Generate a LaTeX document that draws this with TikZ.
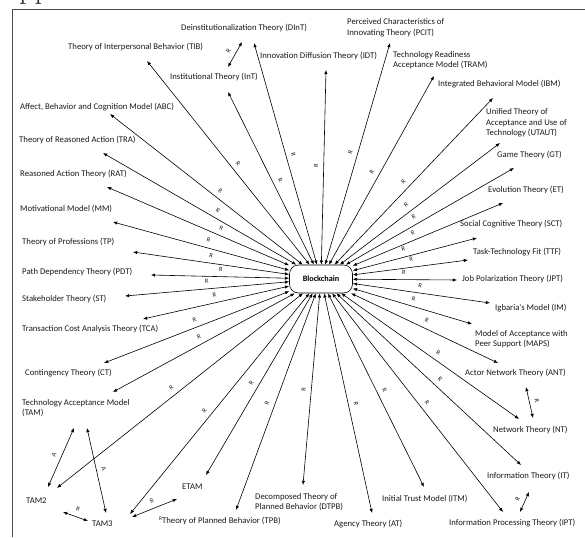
\documentclass[tikz,border=0pt]{standalone}
\usepackage{fontspec}
\newfontfamily\lblfont{Carlito}
\usetikzlibrary{arrows.meta}
\begin{document}
\begin{tikzpicture}[x=1pt,y=-1pt,
  lbl/.style={font=\lblfont\fontsize{8.7}{10.5}\selectfont, inner sep=0pt, anchor=west, align=left, text=black!90},
  rl/.style={font=\lblfont\fontsize{6.5}{7}\selectfont, sloped, above, inner sep=1pt, outer sep=4.5pt, text=black!90},
  con/.style={{Latex[length=4.2pt,width=3.4pt]}-{Latex[length=4.2pt,width=3.4pt]}, line width=0.6pt},
]
\useasboundingbox (0,0) rectangle (585,537);
% page fragment and frame
\node[font=\fontsize{30}{30}\selectfont, anchor=base west, inner sep=0pt, text=black!85] (pp) at (19,-1) {pp};
\draw[gray!60!black, line width=0.9pt] (585,9) -- (12,9) -- (12,537);

% central node
\node[draw, rounded corners=9pt, minimum width=63pt, minimum height=28pt, inner sep=0pt,
      font=\lblfont\bfseries\fontsize{8.2}{9}\selectfont, line width=0.6pt, fill=white] (bc) at (321,279) {Blockchain};

% labels
\node[lbl] (TIB) at (68,47) {Theory of Interpersonal Behavior (TIB)};
\node[lbl] (DInT) at (181,28) {Deinstitutionalization Theory (DInT)};
\node[lbl] (InT) at (170,77) {Institutional Theory (InT)};
\node[lbl] (IDT) at (260,56) {Innovation Diffusion Theory (IDT)};
\node[lbl] (ABC) at (20,107) {Affect, Behavior and Cognition Model (ABC)};
\node[lbl] (TRA) at (19,140) {Theory of Reasoned Action (TRA)};
\node[lbl] (RAT) at (20,174) {Reasoned Action Theory (RAT)};
\node[lbl] (MM) at (20,209) {Motivational Model (MM)};
\node[lbl] (TP) at (22,242) {Theory of Professions (TP)};
\node[lbl] (PDT) at (22,272) {Path Dependency Theory (PDT)};
\node[lbl] (ST) at (22,299) {Stakeholder Theory (ST)};
\node[lbl] (TCA) at (22,329) {Transaction Cost Analysis Theory (TCA)};
\node[lbl] (CT) at (25,373) {Contingency Theory (CT)};
\node[lbl] (TAM) at (22,408) {Technology Acceptance Model\\(TAM)};
\node[lbl] (TAM2) at (26,501) {TAM2};
\node[lbl] (TAM3) at (92,524) {TAM3};
\node[lbl] (ETAM) at (182,487) {ETAM};
\node[lbl] (TPB) at (159,521) {\raisebox{2.5pt}{\fontsize{5.5}{6}\selectfont R}Theory of Planned Behavior (TPB)};
\node[lbl] (DTPB) at (255,502) {Decomposed Theory of\\Planned Behavior (DTPB)};
\node[lbl] (AT) at (334,524) {Agency Theory (AT)};
\node[lbl] (ITM) at (382,499) {Initial Trust Model (ITM)};
\node[lbl] (IPT) at (449,523) {Information Processing Theory (IPT)};
\node[lbl] (IT) at (487,476) {Information Theory (IT)};
\node[lbl] (NT) at (493,430) {Network Theory (NT)};
\node[lbl] (ANT) at (465,373) {Actor Network Theory (ANT)};
\node[lbl] (MAPS) at (475,339) {Model of Acceptance with\\Peer Support (MAPS)};
\node[lbl] (IM) at (495,308) {Igbaria's Model (IM)};
\node[lbl] (JPT) at (462,279) {Job Polarization Theory (JPT)};
\node[lbl] (TTF) at (473,252) {Task-Technology Fit (TTF)};
\node[lbl] (SCT) at (460,224) {Social Cognitive Theory (SCT)};
\node[lbl] (ET) at (488,190) {Evolution Theory (ET)};
\node[lbl] (GT) at (497,155) {Game Theory (GT)};
\node[lbl] (UTAUT) at (486,123) {Unified Theory of\\Acceptance and Use of\\Technology (UTAUT)};
\node[lbl] (IBM) at (438,84) {Integrated Behavioral Model (IBM)};
\node[lbl] (TRAM) at (393,60) {Technology Readiness\\Acceptance Model (TRAM)};
\node[lbl] (PCIT) at (347,27.5) {Perceived Characteristics of\\Innovating Theory (PCIT)};

% connectors from Blockchain
\foreach \n/\x/\y/\p in {TIB/147/61/0.51, DInT/254/43/0.52, InT/228/92/0.51, ABC/110/114/0.50,
  TRA/103/153/0.49, RAT/107/187/0.48, MM/113/222/0.55, TP/133/252/0.59, PDT/151/275/0.59,
  ST/125/296/0.58, TCA/143/319/0.59, CT/104/363/0.57, TAM/113/392/0.57, TAM2/57/488/0.55,
  TAM3/130/514/0.58, ETAM/206/475/0.55, TPB/236/510/0.55, DTPB/303/485/0.54, AT/372/513/0.54,
  ITM/424/487/0.55, IPT/503/512/0.55, IT/521/465/0.57, NT/519/419/0.57, ANT/498/363/0.58,
  MAPS/472/324/0.60, IM/490/303/0.58, JPT/457/280/0.61, TTF/468/260/0.62, SCT/477/238/0.54,
  ET/503/203/0.52, GT/514/168/0.50, UTAUT/500/143/0.50, IBM/493/98/0.51, TRAM/434/76/0.51,
  PCIT/390/43/0.53, IDT/326/70/0.54}{
  \coordinate (t\n) at (\x,\y);
  \draw[con] (bc) -- (t\n);
  \path (bc.center) -- (t\n) node[rl, pos=\p] {R};
}

% secondary links
\coordinate (aDInT) at (242,42); \coordinate (aInT) at (228,67);
\draw[con] (aDInT) -- node[rl] {R} (aInT);
\coordinate (aANT) at (526,387); \coordinate (aNT) at (533,418);
\draw[con] (aANT) -- node[rl] {R} (aNT);
\coordinate (aIT) at (529,492); \coordinate (aIPT) at (520,512);
\draw[con] (aIT) -- node[rl] {R} (aIPT);
\coordinate (aTAMl) at (74,428); \coordinate (aTAM2) at (48,487);
\draw[con] (aTAMl) -- node[rl] {A} (aTAM2);
\coordinate (aTAMr) at (87,428); \coordinate (aTAM3) at (106,513);
\draw[con] (aTAMr) -- node[rl] {A} (aTAM3);
\coordinate (bTAM2) at (63,512); \coordinate (bTAM3) at (88,521);
\draw[con] (bTAM2) -- node[rl] {R} (bTAM3);
\coordinate (cTAM3) at (132,517); \coordinate (cETAM) at (177,499);
\draw[con] (cTAM3) -- node[rl] {R} (cETAM);
\end{tikzpicture}
\end{document}
